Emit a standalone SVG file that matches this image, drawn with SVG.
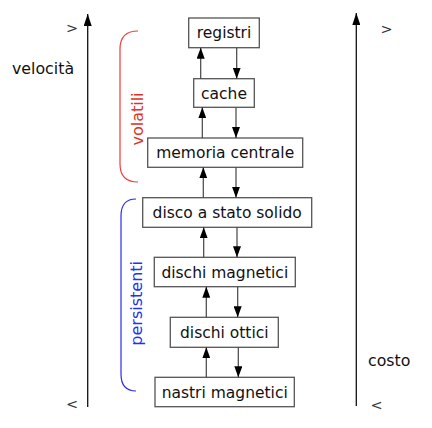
<svg xmlns="http://www.w3.org/2000/svg" width="432" height="428" viewBox="0 0 432 428">
<style>
  text { font-family: "DejaVu Sans", "Noto Sans", sans-serif; }
  .box rect { fill: #fff; stroke: #555; stroke-width: 1.3; }
  .box text { font-size: 15.5px; fill: #111; text-anchor: middle; }
  .conn line { stroke: #444; stroke-width: 1.2; marker-end: url(#ah); }
  .axis line { stroke: #111; stroke-width: 1.3; marker-end: url(#axh); }
  .lbl { font-size: 15.8px; fill: #111; }
  .cmp { font-size: 14.5px; fill: #333; }
</style>
<defs>
  <marker id="ah" markerUnits="userSpaceOnUse" markerWidth="11" markerHeight="8" refX="11" refY="4" orient="auto">
    <path d="M0,0 L11,4 L0,8 z" fill="#000"/>
  </marker>
  <marker id="axh" markerUnits="userSpaceOnUse" markerWidth="12" markerHeight="8" refX="12" refY="4" orient="auto">
    <path d="M0,0 L12,4 L0,8 z" fill="#000"/>
  </marker>
</defs>
<rect width="432" height="428" fill="#fff"/>

<g id="axes" class="axis">
  <line x1="87.7" y1="407" x2="87.7" y2="14"/>
  <line x1="356.3" y1="406" x2="356.3" y2="13"/>
</g>
<text class="lbl" x="12" y="74">velocità</text>
<text class="lbl" x="368" y="365.5">costo</text>
<text class="cmp" x="66" y="33">&gt;</text>
<text class="cmp" x="380.5" y="34">&gt;</text>
<text class="cmp" x="66" y="409">&lt;</text>
<text class="cmp" x="370.5" y="410">&lt;</text>

<g id="volatili">
  <path d="M138,31 Q120,31 120,49 L120,164 Q120,182 138,182" fill="none" stroke="#f03a3a" stroke-width="1.2"/>
  <text x="143.3" y="119" transform="rotate(-90 143.3 119)" font-size="16" fill="#e0321e" text-anchor="middle">volatili</text>
</g>
<g id="persistenti">
  <path d="M136,199 Q121,199 121,216 L121,374 Q121,391 136,391" fill="none" stroke="#2a2af0" stroke-width="1.2"/>
  <text x="141.8" y="303.3" transform="rotate(-90 141.8 303.3)" font-size="16" fill="#2233ee" text-anchor="middle">persistenti</text>
</g>

<g id="registri" class="box"><rect x="188.7" y="18" width="70.6" height="29.7"/><text x="224" y="38.4">registri</text></g>
<g id="cache" class="box"><rect x="193.7" y="78.7" width="60.6" height="28.6"/><text x="224" y="98.5">cache</text></g>
<g id="memoria" class="box"><rect x="147.7" y="138" width="155" height="29.3"/><text x="225.2" y="158.2">memoria centrale</text></g>
<g id="ssd" class="box"><rect x="142.7" y="197.7" width="169" height="29.6"/><text x="227.2" y="218">disco a stato solido</text></g>
<g id="magnetici" class="box"><rect x="154.3" y="257.3" width="141" height="29.4"/><text x="224.8" y="277.5">dischi magnetici</text></g>
<g id="ottici" class="box"><rect x="170.3" y="317.3" width="108" height="30"/><text x="224.3" y="337.8">dischi ottici</text></g>
<g id="nastri" class="box"><rect x="155" y="377.3" width="139.3" height="29.4"/><text x="224.7" y="397.5">nastri magnetici</text></g>

<g id="connectors" class="conn">
  <line x1="200.7" y1="78.7" x2="200.7" y2="47.7"/>
  <line x1="236.7" y1="47.7" x2="236.7" y2="78.7"/>
  <line x1="202.3" y1="138" x2="202.3" y2="107.3"/>
  <line x1="236" y1="107.3" x2="236" y2="138"/>
  <line x1="203.3" y1="197.7" x2="203.3" y2="167.3"/>
  <line x1="236" y1="167.3" x2="236" y2="197.7"/>
  <line x1="203.7" y1="257.3" x2="203.7" y2="227.3"/>
  <line x1="237" y1="227.3" x2="237" y2="257.3"/>
  <line x1="206.3" y1="317.3" x2="206.3" y2="286.7"/>
  <line x1="237.7" y1="286.7" x2="237.7" y2="317.3"/>
  <line x1="206.3" y1="377.3" x2="206.3" y2="347.3"/>
  <line x1="238.3" y1="347.3" x2="238.3" y2="377.3"/>
</g>
</svg>
